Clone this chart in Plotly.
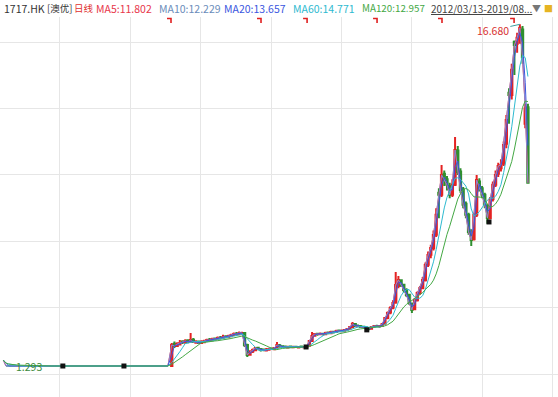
import pandas as pd
import plotly.graph_objects as go

# ---------------- data ----------------
SYMBOL = "1717.HK"
NAME = "[澳优]"
PERIOD = "日线"
ma_periods = [5, 10, 20, 60, 120]
ma_values = ["11.802", "12.229", "13.657", "14.771", "12.957"]
ma_colors = ["#e8364a", "#8a86d0", "#3a56e0", "#2ebad0", "#44a844"]
ma_text_colors = ["#e8364a", "#6a8cba", "#3a56e0", "#2ebad0", "#44a844"]
range_label = "2012/03/13-2019/08..."

first_date = "2012-03-13"
first_close = 1.56
suspend_start = "2012-03-27"
suspend_end = "2014-07-21"
suspend_price = 1.293
trade_start = "2014-08-04"
bar_days = 14

opens = [1.29, 2.30, 2.19, 2.26, 2.40, 2.35, 2.45, 2.38, 2.48, 2.34,
         2.40, 2.33, 2.36, 2.42, 2.48, 2.45, 2.53, 2.50, 2.57, 2.55,
         2.62, 2.59, 2.63, 2.70, 2.75, 2.72, 2.76, 2.78, 2.24, 1.80,
         1.95, 2.00, 2.12, 2.05, 2.04, 1.99, 2.03, 2.08, 2.05, 2.12,
         2.22, 2.18, 2.17, 2.13, 2.17, 2.14, 2.16, 2.13, 2.17, 2.14,
         2.15, 2.20, 2.42, 2.66, 2.75, 2.72, 2.74, 2.72, 2.80, 2.77,
         2.84, 2.82, 2.89, 2.86, 2.88, 2.92, 2.96, 3.04, 3.18, 3.10,
         3.08, 3.06, 3.04, 2.98, 2.97, 3.06, 3.10, 3.08, 3.10, 3.20,
         3.45, 3.70, 3.92, 4.15, 4.90, 5.15, 4.95, 4.70, 4.50, 4.10,
         3.85, 4.25, 4.60, 4.80, 5.15, 5.85, 6.30, 6.60, 7.20, 9.10,
         9.00, 9.95, 9.70, 9.40, 9.00, 9.45, 11.00, 10.05, 9.25, 8.60,
         8.10, 7.30, 7.00, 8.10, 9.60, 9.30, 9.00, 8.50, 7.95, 8.80,
         9.45, 9.95, 10.20, 10.40, 11.30, 13.60, 13.50, 15.90, 15.80, 16.00,
         16.45, 12.20, 12.95]
highs = [2.33, 2.40, 2.36, 2.46, 2.45, 2.50, 2.48, 2.78, 2.55, 2.45,
         2.44, 2.45, 2.48, 2.52, 2.55, 2.56, 2.58, 2.62, 2.64, 2.70,
         2.68, 2.70, 2.75, 2.80, 2.82, 2.85, 2.84, 2.80, 2.30, 2.00,
         2.08, 2.15, 2.15, 2.10, 2.08, 2.10, 2.12, 2.12, 2.15, 2.37,
         2.28, 2.22, 2.22, 2.20, 2.22, 2.20, 2.21, 2.19, 2.20, 2.19,
         2.22, 2.45, 2.82, 2.78, 2.78, 2.80, 2.79, 2.83, 2.84, 2.88,
         2.88, 2.92, 2.93, 2.94, 2.96, 3.00, 3.10, 3.28, 3.20, 3.16,
         3.14, 3.10, 3.08, 3.04, 3.10, 3.14, 3.15, 3.14, 3.22, 3.50,
         3.75, 3.98, 4.25, 5.53, 5.35, 5.20, 5.00, 4.80, 4.55, 4.15,
         4.35, 4.65, 4.90, 5.30, 5.95, 6.45, 6.75, 7.40, 8.40, 9.30,
         10.35, 10.10, 9.85, 9.55, 9.70, 11.61, 11.20, 10.20, 9.35, 8.70,
         8.20, 7.45, 8.20, 9.90, 9.75, 9.40, 9.10, 8.60, 8.90, 9.60,
         10.10, 10.45, 10.60, 11.40, 12.60, 13.80, 14.90, 15.95, 16.30, 16.68,
         16.60, 13.10, 13.10]
lows = [1.29, 2.10, 2.15, 2.22, 2.28, 2.30, 2.32, 2.35, 2.33, 2.30,
        2.28, 2.30, 2.33, 2.38, 2.40, 2.42, 2.44, 2.47, 2.49, 2.52,
        2.54, 2.56, 2.60, 2.64, 2.66, 2.68, 2.70, 2.15, 1.70, 1.75,
        1.88, 1.96, 2.00, 1.95, 1.96, 1.96, 2.00, 2.01, 2.02, 2.08,
        2.12, 2.10, 2.10, 2.10, 2.11, 2.10, 2.12, 2.10, 2.11, 2.10,
        2.12, 2.18, 2.40, 2.62, 2.66, 2.68, 2.67, 2.70, 2.72, 2.74,
        2.76, 2.78, 2.82, 2.82, 2.84, 2.88, 2.93, 3.00, 3.05, 3.04,
        3.00, 3.00, 2.96, 2.90, 2.95, 3.02, 3.04, 3.02, 3.06, 3.18,
        3.40, 3.62, 3.85, 4.10, 4.80, 4.85, 4.60, 4.40, 4.05, 3.68,
        3.80, 4.20, 4.50, 4.75, 5.10, 5.75, 6.15, 6.50, 7.10, 7.95,
        8.90, 9.40, 9.20, 8.85, 8.90, 9.40, 9.90, 9.10, 8.40, 7.95,
        7.20, 6.70, 6.95, 8.00, 9.15, 8.85, 8.40, 7.70, 7.90, 8.70,
        9.35, 9.80, 10.05, 10.30, 11.10, 12.20, 13.30, 14.40, 15.40, 15.80,
        14.90, 12.00, 9.50]
closes = [2.24, 2.19, 2.28, 2.33, 2.37, 2.42, 2.37, 2.46, 2.37, 2.37,
          2.33, 2.37, 2.42, 2.46, 2.46, 2.51, 2.51, 2.55, 2.55, 2.60,
          2.60, 2.64, 2.69, 2.73, 2.73, 2.78, 2.78, 2.24, 1.79, 1.92,
          2.01, 2.10, 2.06, 2.01, 2.01, 2.01, 2.06, 2.06, 2.10, 2.24,
          2.19, 2.15, 2.15, 2.15, 2.15, 2.15, 2.15, 2.15, 2.15, 2.15,
          2.19, 2.42, 2.64, 2.73, 2.73, 2.73, 2.73, 2.78, 2.78, 2.82,
          2.82, 2.87, 2.87, 2.87, 2.91, 2.96, 3.05, 3.19, 3.09, 3.09,
          3.05, 3.05, 3.00, 2.96, 3.05, 3.09, 3.09, 3.09, 3.19, 3.46,
          3.68, 3.91, 4.13, 4.94, 5.17, 4.94, 4.72, 4.49, 4.13, 3.82,
          4.27, 4.58, 4.81, 5.17, 5.84, 6.29, 6.61, 7.19, 8.10, 9.00,
          9.90, 9.67, 9.45, 9.00, 9.45, 11.02, 10.03, 9.22, 8.55, 8.10,
          7.33, 6.97, 8.10, 9.67, 9.31, 9.00, 8.55, 7.96, 8.77, 9.45,
          9.90, 10.30, 10.35, 11.25, 12.37, 13.50, 14.63, 15.75, 16.07, 16.52,
          15.20, 12.90, 9.54]

# red event ticks along the top edge
event_dates = ["2014-07-26", "2015-11-05", "2016-07-01", "2017-06-29", "2018-06-01", "2019-06-10"]
# small black flags on the price
flag_dates = ["2013-01-16", "2013-11-29", "2016-07-01", "2017-05-12", "2019-02-05"]
flag_prices = [1.293, 1.293, 2.15, 2.92, 7.78]

high_label = "16.680"
low_label = "1.293"

# ---------------- build ----------------
UP = "#e42222"
DOWN = "#2f8f2f"
W, H = 558, 397
TOP = 17
FONT = "Noto Sans CJK SC"

trade_dates = pd.date_range(trade_start, periods=len(closes), freq=f"{bar_days}D")
susp_dates = pd.date_range(suspend_start, suspend_end, freq=f"{bar_days}D")
all_dates = [pd.Timestamp(first_date)] + list(susp_dates) + list(trade_dates)
all_close = pd.Series([first_close] + [suspend_price] * len(susp_dates) + closes)

# one bar covers ~10 trading days, so an N-day average spans ~N/10 bars
ma_traces = []
for p, c in zip(ma_periods, ma_colors):
    w = max(1, round(p / 10))
    ma = all_close.rolling(w, min_periods=1).mean()
    ma_traces.append(go.Scatter(x=all_dates, y=ma, mode="lines",
                                line=dict(color=c, width=1), hoverinfo="skip",
                                showlegend=False))

fig = go.Figure()
# short averages sit under the candles, longer ones over them
fig.add_trace(ma_traces[0])
fig.add_trace(ma_traces[1])
fig.add_trace(go.Candlestick(
    x=trade_dates, open=opens, high=highs, low=lows, close=closes,
    increasing=dict(line=dict(color=UP, width=2), fillcolor=UP),
    decreasing=dict(line=dict(color=DOWN, width=2), fillcolor=DOWN),
    whiskerwidth=0, hoverinfo="skip", showlegend=False,
))
for t in ma_traces[2:]:
    fig.add_trace(t)

fig.add_trace(go.Scatter(x=flag_dates, y=flag_prices, mode="markers",
                         marker=dict(symbol="square", size=5, color="#111111"),
                         hoverinfo="skip", showlegend=False))

shapes = []
for d in event_dates:
    shapes.append(dict(type="path", xref="x", yref="paper",
                       xsizemode="pixel", xanchor=d,
                       ysizemode="pixel", yanchor=1,
                       path="M -3,-1.5 L 1,-1.5 L 1,-6",
                       line=dict(color="#e02020", width=1.6)))

annotations = []
peak_idx = highs.index(max(highs))
annotations.append(dict(x=trade_dates[peak_idx], y=max(highs), xref="x", yref="y",
                        text=high_label, showarrow=True, arrowhead=0, arrowwidth=1,
                        arrowcolor="#3aa0a0", ax=-27, ay=6,
                        font=dict(family=FONT, size=10.5, color="#d83030")))
annotations.append(dict(x=suspend_start, y=suspend_price, xref="x", yref="y",
                        text=low_label, showarrow=True, arrowhead=0, arrowwidth=1,
                        arrowcolor="#3aa0c0", ax=23, ay=0,
                        font=dict(family=FONT, size=10.5, color="#3c8a3c")))

header = [(SYMBOL, "#333333", 2, 10.5), (NAME, "#333333", 45, 9.5), (PERIOD, "#e03030", 72, 9.5)]
hx = [94, 157, 222, 291, 360]
hs = [10.5, 10.5, 10.5, 10.5, 9.8]
for p, v, c, x, s in zip(ma_periods, ma_values, ma_text_colors, hx, hs):
    header.append((f"MA{p}:{v}", c, x, s))
header.append((f"<u>{range_label}</u>", "#444444", 429, 10))
header.append(("▼", "#777777", 530, 9))
header.append(("■", "#e6b422", 542, 9))
for t, c, x, s in header:
    annotations.append(dict(x=x / W, y=1 + (TOP - 8.5) / (H - TOP), xref="paper", yref="paper",
                            xanchor="left", yanchor="middle", showarrow=False, text=t,
                            font=dict(family=FONT, size=s, color=c)))

fig.update_layout(
    width=W, height=H, margin=dict(l=0, r=0, t=TOP, b=0),
    paper_bgcolor="white", plot_bgcolor="white",
    shapes=shapes, annotations=annotations, showlegend=False,
    xaxis=dict(type="date", range=["2012-02-25", "2020-01-29"],
               tick0="2013-01-01", dtick="M12", showticklabels=False,
               showgrid=True, gridcolor="#e6e6e6", gridwidth=1, zeroline=False,
               rangeslider=dict(visible=False), fixedrange=True),
    yaxis=dict(range=[-0.103, 17.01], tick0=0.93, dtick=2.99,
               showticklabels=False, showgrid=True, gridcolor="#e6e6e6",
               zeroline=False, fixedrange=True),
)

fig.write_html("out.html", config={"displayModeBar": False})
